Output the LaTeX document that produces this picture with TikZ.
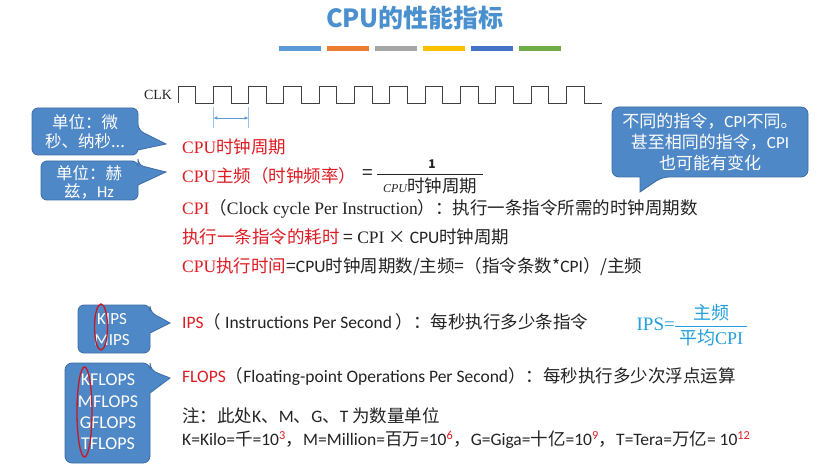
\documentclass[tikz,border=0pt]{standalone}
\usepackage{fontspec}
\setmainfont{Noto Sans CJK SC}
\newfontfamily\tmfont{Liberation Serif}
\newfontfamily\cbfont{Carlito}
\usetikzlibrary{arrows.meta}
\definecolor{titleblue}{RGB}{74,144,206}
\definecolor{keyred}{RGB}{222,28,36}
\definecolor{bodytext}{RGB}{35,35,35}
\definecolor{bubblefill}{RGB}{79,136,198}
\definecolor{bubbleedge}{RGB}{60,108,165}
\definecolor{tickblue}{RGB}{91,155,213}
\definecolor{ipsblue}{RGB}{35,160,220}
\definecolor{circred}{RGB}{200,25,35}
\definecolor{barA}{RGB}{91,155,213}
\definecolor{barB}{RGB}{237,125,49}
\definecolor{barC}{RGB}{165,165,165}
\definecolor{barD}{RGB}{255,192,0}
\definecolor{barE}{RGB}{68,114,196}
\definecolor{barF}{RGB}{112,173,71}
\newcommand\pw[1]{\textsuperscript{\color{keyred}#1}}

\begin{document}
\begin{tikzpicture}[x=1pt, y=-1pt,
    line/.style={anchor=west, inner sep=0pt, text=bodytext, font=\fontsize{17.5}{20}\selectfont},
    key/.style={text=keyred},
    bubble/.style={fill=bubblefill, draw=bubbleedge, line width=0.8pt},
    bubtext/.style={text=white, align=center, inner sep=0pt},
    ring/.style={draw=circred, line width=1.3pt}]
    \useasboundingbox[fill=white] (0,0) rectangle (824,473);

    \node[text=titleblue, font=\bfseries\fontsize{25}{30}\selectfont] (title) at (415,18) {CPU的性能指标};
    \foreach \c [count=\i from 0] in {barA,barB,barC,barD,barE,barF}
        \fill[\c] (279+48*\i,46) rectangle ++(42,5);

    \node[text=bodytext, font=\tmfont\fontsize{14}{16}\selectfont] (clk) at (158,95) {CLK};
    \draw[black!75, line width=0.9pt] (178,103)
        \foreach \k in {1,...,12} { -- ++(0,-17) -- ++(17.65,0) -- ++(0,17) -- ++(17.65,0) };
    \coordinate (tA) at (213.3,118);
    \coordinate (tB) at (248.6,118);
    \draw[tickblue!60, line width=0.5pt] (213.3,107) -- (213.3,128) (248.6,107) -- (248.6,128);
    \draw[tickblue, line width=0.8pt, {Latex[length=4pt,width=3.5pt]}-{Latex[length=4pt,width=3.5pt]}] (tA) -- (tB);

    \filldraw[bubble] (85,108) [rounded corners=6pt] -- (138,108) -- (138,130) [sharp corners] -- (166,144)
        -- (138,150) [rounded corners=6pt] -- (138,155) -- (32,155) -- (32,108) -- cycle;
    \node[bubtext, font=\fontsize{16.5}{19}\selectfont] (unitA) at (85,132) {单位：微\\秒、纳秒...};
    \filldraw[bubble] (90,161) [rounded corners=6pt] -- (138,161) -- (138,165) [sharp corners] -- (166,172)
        -- (138,185) [rounded corners=6pt] -- (138,200) -- (41,200) -- (41,161) -- cycle;
    \node[bubtext, font=\fontsize{16.5}{18}\selectfont] (unitB) at (89,182) {单位：赫\\兹，{\cbfont Hz}};

    \filldraw[bubble] (710,107) [rounded corners=7pt] -- (808,107) -- (808,177) -- (662,177) [sharp corners]
        -- (640,192) -- (640,177) [rounded corners=7pt] -- (612,177) -- (612,107) -- cycle;
    \node[bubtext, font=\fontsize{17}{21}\selectfont] (cpinote) at (710,142)
        {不同的指令，{\cbfont CPI}不同。\\甚至相同的指令，{\cbfont CPI}\\也可能有变化};

    \node[line, key] (cycle) at (182,147) {{\tmfont CPU}时钟周期};
    \node[line, key] (freq) at (182,176) {{\tmfont CPU}主频（时钟频率）};
    \node[text=bodytext, font=\fontsize{19}{20}\selectfont] (eq) at (368,175) {=};
    \node[text=bodytext, font=\bfseries\fontsize{12}{14}\selectfont, inner sep=0pt] (one) at (432,164) {1};
    \node[text=bodytext, font=\fontsize{17.5}{20}\selectfont, inner sep=0pt, minimum width=106pt] (perden) at (430,186)
        {{\tmfont\itshape\fontsize{12}{12}\selectfont CPU}时钟周期};
    \draw[bodytext, line width=0.8pt] ([yshift=3pt]perden.north west) -- ([yshift=3pt]perden.north east);

    \node[line] (cpi) at (182,209) {{\color{keyred}\tmfont CPI}（{\tmfont Clock cycle Per Instruction}）：执行一条指令所需的时钟周期数};
    \node[line] (instime) at (182,237) {{\color{keyred}执行一条指令的耗时} = {\tmfont CPI} × {\cbfont CPU}时钟周期};
    \node[line] (exectime) at (182,267) {{\color{keyred}{\tmfont CPU}执行时间}={\cbfont CPU}时钟周期数/主频=（指令条数*{\cbfont CPI}）/主频};

    \filldraw[bubble] (114,305) [rounded corners=6pt] -- (150,305) -- (150,312) [sharp corners] -- (170,323)
        -- (150,333) [rounded corners=6pt] -- (150,353) -- (78,353) -- (78,305) -- cycle;
    \node[bubtext, font=\cbfont\fontsize{17}{21}\selectfont] (kips) at (112,330) {KIPS\\MIPS};
    \draw[ring] (101,327) ellipse [x radius=6.5, y radius=23];

    \node[line] (ips) at (182,322) {{\color{keyred}\cbfont IPS}（ {\cbfont Instructions Per Second} ）：每秒执行多少条指令};
    \node[anchor=east, inner sep=0pt, text=ipsblue, font=\tmfont\fontsize{19}{22}\selectfont] (ipseq) at (675,324) {IPS=};
    \node[inner sep=0pt, text=ipsblue, font=\fontsize{18}{20}\selectfont] (ipsnum) at (711,313) {主频};
    \node[inner sep=0pt, text=ipsblue, font=\fontsize{18}{20}\selectfont, minimum width=72pt] (ipsden) at (711,338) {平均{\tmfont CPI}};
    \draw[ipsblue, line width=0.8pt] ([yshift=3pt]ipsden.north west) -- ([yshift=3pt]ipsden.north east);

    \filldraw[bubble] (108,363) [rounded corners=7pt] -- (150,363) -- (150,370) [sharp corners] -- (170,378)
        -- (150,393) [rounded corners=7pt] -- (150,463) -- (65,463) -- (65,363) -- cycle;
    \node[bubtext, font=\cbfont\fontsize{18}{21.3}\selectfont] (flopsbox) at (108,412) {KFLOPS\\MFLOPS\\GFLOPS\\TFLOPS};
    \draw[ring] (84.5,412) ellipse [x radius=7.5, y radius=45];

    \node[line] (flops) at (182,377) {{\color{keyred}\cbfont FLOPS}（{\cbfont Floating-point Operations Per Second}）：每秒执行多少次浮点运算};
    \node[line] (note) at (182,416) {注：此处{\cbfont K}、{\cbfont M}、{\cbfont G}、{\cbfont T} 为数量单位};
    \node[line] (units) at (182,440) {{\cbfont K=Kilo=}千{\cbfont =10\pw{3}}，{\cbfont M=Million=}百万{\cbfont =10\pw{6}}，{\cbfont G=Giga=}十亿{\cbfont =10\pw{9}}，{\cbfont T=Tera=}万亿{\cbfont = 10\pw{12}}};
\end{tikzpicture}
\end{document}
